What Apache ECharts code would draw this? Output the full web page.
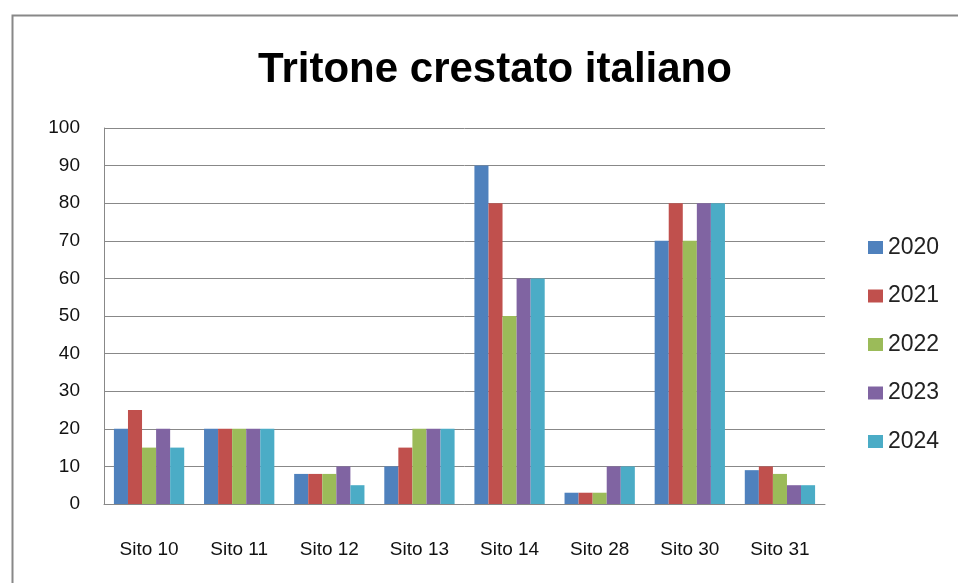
<!DOCTYPE html>
<html>
<head>
<meta charset="utf-8">
<script src="https://cdn.jsdelivr.net/npm/echarts@6/dist/echarts.min.js"></script>
<style>
  html, body { margin: 0; padding: 0; background: #fff; }
  #chart { width: 958px; height: 583px; }
</style>
</head>
<body>
<div id="chart"></div>
<script>
// Tritone crestato italiano - conteggi per sito e anno

var siti = ['Sito 10', 'Sito 11', 'Sito 12', 'Sito 13', 'Sito 14', 'Sito 28', 'Sito 30', 'Sito 31'];
var anni = ['2020', '2021', '2022', '2023', '2024'];

var v2020 = [20, 20, 8, 10, 90, 3, 70, 9];
var v2021 = [25, 20, 8, 15, 80, 3, 80, 10];
var v2022 = [15, 20, 8, 20, 50, 3, 70, 8];
var v2023 = [20, 20, 10, 20, 60, 10, 80, 5];
var v2024 = [15, 20, 5, 20, 60, 10, 80, 5];

var valori = [v2020, v2021, v2022, v2023, v2024];
var colori = ['#4F81BD', '#C0504D', '#9BBB59', '#8064A2', '#4BACC6'];

var myChart = echarts.init(document.getElementById('chart'));

var series = [];
for (var i = 0; i < anni.length; i++) {
    series.push({
        name: anni[i],
        type: 'bar',
        data: valori[i],
        barGap: '0%',
        barCategoryGap: '22%',
        itemStyle: { color: colori[i] }
    });
}

var option = {
    animation: false,
    textStyle: { fontFamily: 'Liberation Sans, sans-serif' },
    title: {
        text: 'Tritone crestato italiano',
        left: 490,
        top: 44,
        textAlign: 'center',
        textStyle: {
            fontFamily: 'Liberation Sans, sans-serif',
            fontSize: 42,
            fontWeight: 'bold',
            color: '#000'
        }
    },
    graphic: [{
        type: 'rect',
        shape: { x: 12.5, y: 15.5, width: 960, height: 600 },
        style: { fill: 'none', stroke: '#888', lineWidth: 2 },
        silent: true
    }],
    legend: {
        orient: 'vertical',
        left: 863,
        top: 231,
        itemWidth: 15,
        itemHeight: 13,
        itemGap: 25.5,
        icon: 'rect',
        textStyle: { fontSize: 23, color: '#222', padding: [0, 0, 0, 0] },
        data: anni
    },
    grid: {
        left: 104,
        top: 128,
        width: 721,
        height: 376,
        containLabel: false
    },
    xAxis: {
        type: 'category',
        data: siti,
        axisTick: { show: false },
        axisLine: { lineStyle: { color: '#888', width: 1 } },
        axisLabel: { fontSize: 19, color: '#111', margin: 36 }
    },
    yAxis: {
        type: 'value',
        min: 0,
        max: 100,
        interval: 10,
        axisLine: { show: true, lineStyle: { color: '#888' } },
        axisTick: { show: false },
        splitLine: { lineStyle: { color: '#888' } },
        axisLabel: { fontSize: 19, color: '#111', margin: 24 }
    },
    series: series
};

myChart.setOption(option);
window.onresize = myChart.resize;
</script>
</body>
</html>
